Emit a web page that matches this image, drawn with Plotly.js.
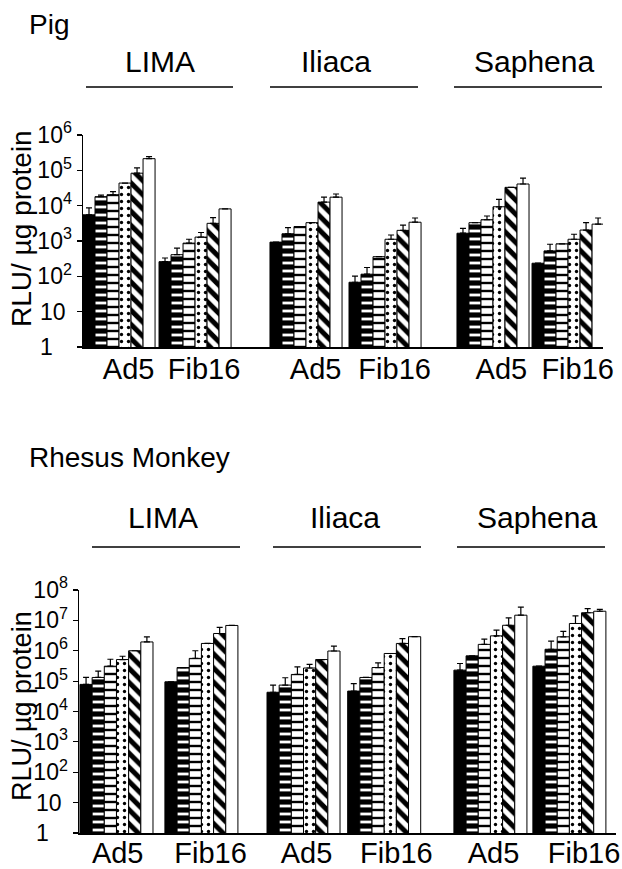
<!DOCTYPE html>
<html><head><meta charset="utf-8">
<script src="https://cdn.plot.ly/plotly-3.0.1.min.js"></script>
<style>html,body{margin:0;padding:0;background:#fff}#chart{width:622px;height:869px}</style>
</head><body><div id="chart"></div>
<script>
// ---------------- DATA ----------------
const tissues = ["LIMA", "Iliaca", "Saphena"];
const groupLabels = ["Ad5", "Fib16", "Ad5", "Fib16", "Ad5", "Fib16"];
const seriesNames = ["Series 1", "Series 2", "Series 3", "Series 4", "Series 5", "Series 6"];
const yTickVals = [1, 10, 100, 1e3, 1e4, 1e5, 1e6, 1e7, 1e8];
const yTickText = ["1", "10", "10<sup>2</sup>", "10<sup>3</sup>", "10<sup>4</sup>", "10<sup>5</sup>", "10<sup>6</sup>", "10<sup>7</sup>", "10<sup>8</sup>"];

// Pig: order of groups = LIMA Ad5, LIMA Fib16, Iliaca Ad5, Iliaca Fib16, Saphena Ad5, Saphena Fib16
const pigS1 = [5500, 260, 930, 68, 1660, 235];
const pigS2 = [18000, 410, 1600, 115, 3300, 525];
const pigS3 = [20400, 870, 2570, 360, 4000, 830];
const pigS4 = [43600, 1290, 3300, 1120, 9300, 1120];
const pigS5 = [83000, 3160, 12600, 2000, 33000, 2040];
const pigS6 = [214000, 8100, 17400, 3400, 41000, 3000];
const pigE1 = [3200, 70, 0, 34, 630, 0];
const pigE2 = [2000, 220, 800, 63, 0, 285];
const pigE3 = [4700, 250, 0, 0, 1100, 0];
const pigE4 = [0, 450, 0, 360, 5800, 430];
const pigE5 = [34000, 1410, 4800, 820, 0, 1270];
const pigE6 = [31000, 0, 4000, 1070, 19000, 1470];

// Rhesus monkey
const rhS1 = [78000, 95000, 43000, 47000, 230000, 310000];
const rhS2 = [132000, 280000, 74000, 132000, 680000, 1120000];
const rhS3 = [310000, 560000, 166000, 280000, 1620000, 2880000];
const rhS4 = [513000, 1740000, 270000, 813000, 3090000, 7900000];
const rhS5 = [1000000, 3700000, 513000, 1740000, 6900000, 17800000];
const rhS6 = [1950000, 6800000, 980000, 2900000, 14800000, 20000000];
const rhE1 = [54000, 0, 31000, 36000, 150000, 0];
const rhE2 = [82000, 0, 55000, 0, 0, 970000];
const rhE3 = [215000, 440000, 129000, 120000, 780000, 1490000];
const rhE4 = [147000, 0, 85000, 0, 1700000, 6200000];
const rhE5 = [0, 2200000, 0, 770000, 5100000, 6700000];
const rhE6 = [930000, 0, 430000, 0, 12700000, 2900000];

// ---------------- LAYOUT CONSTANTS ----------------
const W = 622, H = 869;
const FONT = "Liberation Sans, Arial, Helvetica, sans-serif";
const px = v => v / W;
const py = v => (H - v) / H;

const pigCenters = [3, 9.33, 18.57, 25.15, 34.14, 40.39];
const rhCenters = [3, 9.98, 18.37, 25.0, 33.73, 40.22];
const pigLabelShift = [0.8, 0.75, 0.8, 0.8, 0.7, 0.8];
const rhLabelShift = [0.1, 0.75, 0.25, 1.0, 0.25, 1.2];

const styles = [
  {color: "#000", pattern: {shape: ""}},
  {color: "#fff", pattern: {shape: "-", fgcolor: "#000", bgcolor: "#fff", size: 8, solidity: 0.65, fillmode: "replace"}},
  {color: "#fff", pattern: {shape: "-", fgcolor: "#000", bgcolor: "#fff", size: 8, solidity: 0.3, fillmode: "replace"}},
  {color: "#fff", pattern: {shape: ".", fgcolor: "#000", bgcolor: "#fff", size: 7, solidity: 0.18, fillmode: "replace"}},
  {color: "#fff", pattern: {shape: "\\", fgcolor: "#000", bgcolor: "#fff", size: 10, solidity: 0.5, fillmode: "replace"}},
  {color: "#fff", pattern: {shape: ""}}
];

const pigVals = [pigS1, pigS2, pigS3, pigS4, pigS5, pigS6];
const pigErrs = [pigE1, pigE2, pigE3, pigE4, pigE5, pigE6];
const rhVals = [rhS1, rhS2, rhS3, rhS4, rhS5, rhS6];
const rhErrs = [rhE1, rhE2, rhE3, rhE4, rhE5, rhE6];

const traces = [];
function addPanel(vals, errs, centers, xa, ya) {
  vals.forEach((v, i) => {
    traces.push({
      type: "bar", name: seriesNames[i], x: centers, y: v,
      width: 1, offset: i - 3, xaxis: xa, yaxis: ya,
      marker: {color: styles[i].color, line: {color: "#000", width: 1}, pattern: styles[i].pattern},
      error_y: {type: "data", symmetric: false, array: errs[i], arrayminus: errs[i].map(() => 0),
                color: "#000", thickness: 1.2, width: 3},
      showlegend: false, hoverinfo: "skip"
    });
  });
}
addPanel(pigVals, pigErrs, pigCenters, "x", "y");
addPanel(rhVals, rhErrs, rhCenters, "x2", "y2");

function yAxis(domain, maxExp) {
  return {
    type: "log", domain: domain, range: [0, maxExp],
    showline: true, linecolor: "#000", linewidth: 1.5, mirror: false,
    ticks: "outside", ticklen: 5, tickwidth: 1.2, tickcolor: "#000",
    tickvals: yTickVals.slice(0, maxExp + 1),
    ticktext: yTickText.slice(0, maxExp + 1).map((t, k) => k === 0 ? t + "\u00a0\u00a0\u00a0" : (k === 1 ? t + "\u00a0" : t)),
    tickfont: {size: 23, color: "#000", family: FONT},
    showgrid: false, zeroline: false, fixedrange: true
  };
}
function xAxis(domain, range, centers, shifts, anchor, standoff) {
  return {
    domain: domain, range: range, anchor: anchor,
    showline: true, linecolor: "#000", linewidth: 1.5,
    ticks: "", tickvals: centers.map((c, k) => c + shifts[k]), ticktext: groupLabels,
    ticklabelstandoff: standoff,
    tickfont: {size: 29, color: "#000", family: FONT},
    showgrid: false, zeroline: false, fixedrange: true
  };
}

const headerTop = [160, 336, 534];
const headerBot = [163, 345, 537];
const lineTop = [[86, 233], [270, 418], [454, 602]];
const lineBot = [[92, 240], [273, 421], [457, 605]];

const annotations = [
  {text: "Pig", x: px(27), y: py(24), xanchor: "left", yanchor: "middle"},
  {text: "Rhesus Monkey", x: px(27), y: py(458), xanchor: "left", yanchor: "middle"},
  {text: "RLU/ µg protein", x: px(22), y: py(229), textangle: -90, font: {size: 28}},
  {text: "RLU/ µg protein", x: px(22), y: py(706), textangle: -90, font: {size: 27}}
];
tissues.forEach((t, k) => {
  annotations.push({text: t, x: px(headerTop[k]), y: py(61), font: {size: 30}});
  annotations.push({text: t, x: px(headerBot[k]), y: py(517), font: {size: 30}});
});
annotations.forEach(a => {
  a.xref = "paper"; a.yref = "paper"; a.showarrow = false;
  if (!a.xanchor) a.xanchor = "center";
  if (!a.yanchor) a.yanchor = "middle";
  a.font = Object.assign({family: FONT, color: "#000", size: 28}, a.font || {});
});

const shapes = [];
lineTop.forEach(l => shapes.push({type: "line", xref: "paper", yref: "paper", x0: px(l[0]), x1: px(l[1]), y0: py(87), y1: py(87), line: {color: "#000", width: 1.5}}));
lineBot.forEach(l => shapes.push({type: "line", xref: "paper", yref: "paper", x0: px(l[0]), x1: px(l[1]), y0: py(547), y1: py(547), line: {color: "#000", width: 1.5}}));

const layout = {
  width: W, height: H,
  margin: {l: 0, r: 0, t: 0, b: 0, pad: 0},
  paper_bgcolor: "#fff", plot_bgcolor: "#fff",
  barmode: "overlay",
  font: {family: FONT, color: "#000"},
  xaxis: xAxis([px(83), px(603)], [0, 43.3], pigCenters, pigLabelShift, "y", -4),
  yaxis: yAxis([py(347), py(135)], 6),
  xaxis2: xAxis([px(79), px(616)], [-0.08, 44.05], rhCenters, rhLabelShift, "y2", -6),
  yaxis2: Object.assign(yAxis([py(833), py(590)], 8), {anchor: "x2"}),
  annotations: annotations,
  shapes: shapes,
  showlegend: false
};
layout.yaxis.anchor = "x";

Plotly.newPlot("chart", traces, layout, {displayModeBar: false, staticPlot: true});
</script>
</body></html>
